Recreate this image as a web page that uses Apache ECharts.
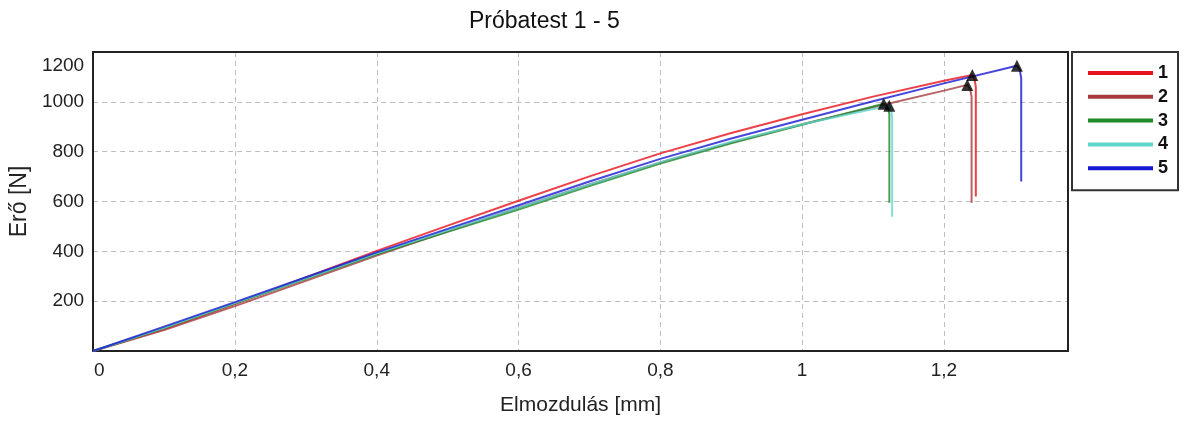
<!DOCTYPE html>
<html>
<head>
<meta charset="utf-8">
<script src="https://cdn.jsdelivr.net/npm/echarts@6/dist/echarts.min.js"></script>
<style>html,body{margin:0;padding:0;background:#fff}#c{width:1197px;height:421px}</style>
</head>
<body>
<div id="c"></div>
<script>
// Data: [displacement mm, force N]
const seriesNames = ['1', '2', '3', '4', '5'];
const series1 = [[0,0],[0.1,88],[0.2,188],[0.3,295],[0.4,402],[0.5,503],[0.6,603],[0.7,701],[0.8,793],[0.9,875],[1.0,950],[1.1,1021],[1.2,1085],[1.24,1108],[1.243,1092],[1.245,1060],[1.245,620]];
const series2 = [[0,0],[0.1,84],[0.2,180],[0.3,282],[0.4,383],[0.5,480],[0.6,575],[0.7,668],[0.8,757],[0.9,837],[1.0,910],[1.1,978],[1.2,1045],[1.233,1068],[1.237,1050],[1.239,1020],[1.239,595]];
const series3 = [[0,0],[0.1,92],[0.2,190],[0.3,290],[0.4,388],[0.5,478],[0.6,568],[0.7,662],[0.8,752],[0.9,834],[1.0,908],[1.1,981],[1.115,992],[1.121,978],[1.123,950],[1.123,595]];
const series4 = [[0,0],[0.1,93],[0.2,192],[0.3,292],[0.4,392],[0.5,484],[0.6,575],[0.7,668],[0.8,758],[0.9,840],[1.0,910],[1.1,971],[1.123,984],[1.126,962],[1.127,930],[1.127,539]];
const series5 = [[0,0],[0.1,98],[0.2,196],[0.3,296],[0.4,396],[0.5,490],[0.6,585],[0.7,680],[0.8,771],[0.9,853],[1.0,928],[1.1,1002],[1.2,1074],[1.3,1143],[1.303,1145],[1.307,1128],[1.309,1095],[1.309,680]];
const allSeries = [series1, series2, series3, series4, series5];
const colors = ['#e8121c', '#a53b3d', '#1f8a2a', '#5fd6cc', '#1818d2'];
const xTicks = [0, 0.2, 0.4, 0.6, 0.8, 1, 1.2];
const yTicks = [200, 400, 600, 800, 1000, 1200];

const peaks = allSeries.map(s => s.reduce((a, b) => (b[1] > a[1] ? b : a)));

const chart = echarts.init(document.getElementById('c'), null, {renderer: 'canvas'});
const fontFam = '"Liberation Sans", Arial, sans-serif';

const lineSeries = allSeries.map((d, i) => ({
  name: seriesNames[i],
  type: 'line',
  data: d,
  showSymbol: false,
  symbol: 'none',
  lineStyle: {color: colors[i], width: 2, opacity: 0.8},
  itemStyle: {color: colors[i]},
  z: 2 + i
}));

const borderAxis = {
  axisLine: {show: true, onZero: false, lineStyle: {color: '#222', width: 2}},
  axisTick: {show: false},
  axisLabel: {show: false},
  splitLine: {show: false}
};

chart.setOption({
  animation: false,
  backgroundColor: '#fff',
  title: {
    text: 'Próbatest 1 - 5',
    left: 464, top: 5,
    textStyle: {fontFamily: fontFam, fontSize: 23, fontWeight: 'normal', color: '#111'}
  },
  legend: {
    data: seriesNames,
    orient: 'vertical',
    left: 1072, top: 52,
    padding: [12, 10, 13, 16],
    borderColor: '#333', borderWidth: 2,
    itemGap: 5.8,
    icon: 'rect',
    itemWidth: 65, itemHeight: 4,
    textStyle: {fontFamily: fontFam, fontSize: 18, fontWeight: 'bold', color: '#111'}
  },
  grid: {
    left: 92, top: 52, right: 129, bottom: 69,
    show: false
  },
  xAxis: [{
    type: 'value', min: 0, max: 1.375, interval: 0.2,
    name: 'Elmozdulás [mm]', nameLocation: 'middle', nameGap: 44,
    nameTextStyle: {fontFamily: fontFam, fontSize: 21, color: '#222'},
    axisLine: {show: true, onZero: false, lineStyle: {color: '#222', width: 2}},
    axisTick: {show: false},
    axisLabel: {
      showMaxLabel: false,
      margin: 10,
      fontFamily: fontFam, fontSize: 19, color: '#222',
      formatter: v => {
        if (!xTicks.some(t => Math.abs(t - v) < 1e-6)) return '';
        const s = String(Math.round(v * 10) / 10).replace('.', ',');
        return v === 0 ? '{zero|' + s + '}' : s;
      },
      rich: {zero: {padding: [0, 0, 0, 12], fontFamily: fontFam, fontSize: 19, color: '#222'}}
    },
    splitLine: {show: true, lineStyle: {color: '#bdbdbd', type: [5, 4], width: 1}}
  }, Object.assign({type: 'value', min: 0, max: 1.375, position: 'top'}, borderAxis)],
  yAxis: [{
    type: 'value', min: 0, max: 1200, interval: 200,
    name: 'Erő [N]', nameLocation: 'middle', nameGap: 60,
    nameTextStyle: {fontFamily: fontFam, fontSize: 23, color: '#222'},
    axisLine: {show: true, onZero: false, lineStyle: {color: '#222', width: 2}},
    axisTick: {show: false},
    axisLabel: {
      showMinLabel: false,
      margin: 9,
      fontFamily: fontFam, fontSize: 19, color: '#222',
      formatter: v => {
        if (!yTicks.includes(v)) return '';
        return v === 1200 ? '{top|' + v + '}' : String(v);
      },
      rich: {top: {padding: [28, 0, 0, 0], fontFamily: fontFam, fontSize: 19, color: '#222'}}
    },
    splitLine: {show: true, lineStyle: {color: '#bdbdbd', type: [5, 4], width: 1}}
  }, Object.assign({type: 'value', min: 0, max: 1200, position: 'right'}, borderAxis)],
  series: lineSeries.concat([{
    name: 'peaks',
    type: 'scatter',
    data: peaks,
    symbol: 'triangle',
    symbolSize: 12,
    itemStyle: {color: '#000'},
    z: 10
  }])
});
</script>
</body>
</html>
